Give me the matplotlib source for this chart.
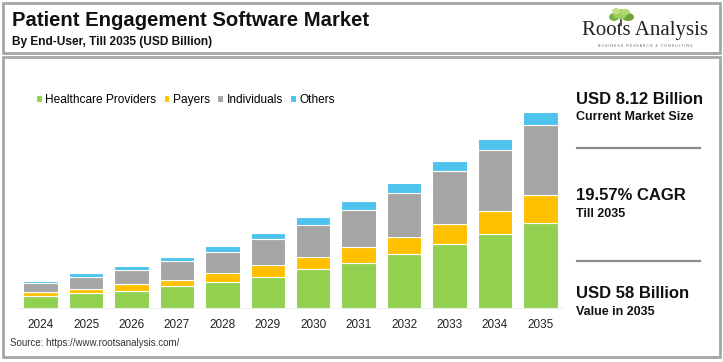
import numpy as np
import matplotlib
matplotlib.use("Agg")
from matplotlib import pyplot as plt
from matplotlib.patches import Rectangle, Ellipse

plt.rcParams['font.family'] = ['Liberation Sans', 'DejaVu Sans']

# data (USD billion)
years = ['2024', '2025', '2026', '2027', '2028', '2029', '2030', '2031', '2032', '2033', '2034', '2035']
providers = [3.4, 4.35, 5.1, 6.4, 7.7, 9.3, 11.4, 13.4, 16.0, 18.8, 21.8, 25.2]
payers = [1.3, 1.3, 1.9, 2.0, 2.6, 3.3, 3.8, 4.5, 5.0, 6.0, 7.0, 8.2]
individuals = [2.7, 3.65, 4.15, 5.4, 6.3, 7.7, 9.3, 11.2, 13.1, 15.6, 18.0, 20.8]
others = [0.72, 1.1, 1.3, 1.3, 1.6, 1.9, 2.4, 2.5, 2.8, 3.0, 3.2, 3.8]

series = [('Healthcare Providers', providers, '#92D050'),
          ('Payers', payers, '#FFC000'),
          ('Individuals', individuals, '#A5A5A5'),
          ('Others', others, '#4DC3EE')]

W, H = 723, 362
fig = plt.figure(figsize=(W / 100, H / 100), dpi=100)


def fx(x):
    return x / W


def fy(y):
    return 1 - y / H


# frames
for (x0, y0, x1, y1) in [(3, 3, 720, 53), (3, 57, 720, 357)]:
    fig.patches.append(Rectangle((fx(x0), fy(y1)), fx(x1 - x0), (y1 - y0) / H,
                                 transform=fig.transFigure, fill=False,
                                 edgecolor='#A6A6A6', lw=2))

# header
fig.text(fx(12), fy(21), 'Patient Engagement Software Market', fontsize=14.6,
         fontweight='bold', va='center', ha='left', color='#111111')
fig.text(fx(12), fy(42), 'By End-User, Till 2035 (USD Billion)', fontsize=8.6,
         fontweight='bold', va='center', ha='left', color='#111111')

# logo
fig.text(fx(645), fy(31), 'Roots Analysis', fontsize=15, family='Liberation Serif',
         va='center', ha='center', color='#222222')
fig.text(fx(645), fy(46), 'B U S I N E S S   R E S E A R C H   &   C O N S U L T I N G',
         fontsize=2.6, va='center', ha='center', color='#666666')
for (cx, cy, rx, ry, c) in [(614, 17, 5, 4, '#7CB342'), (628, 17, 6, 4, '#6FA53A'),
                            (620, 14, 7, 5, '#9CCF5E'), (616, 11, 4, 3, '#C5E08A'),
                            (625, 12, 5, 3, '#B2D872')]:
    fig.patches.append(Ellipse((fx(cx), fy(cy)), 2 * rx / W, 2 * ry / H,
                               transform=fig.transFigure, color=c, lw=0))
fig.patches.append(Rectangle((fx(620), fy(25)), 2 / W, 6 / H,
                             transform=fig.transFigure, color='#6D5B4B', lw=0))

# bars
ax = fig.add_axes([fx(18), fy(308), fx(563 - 18), (308 - 105) / H])
x = np.arange(len(years))
bottom = np.zeros(len(years))
for name, vals, col in series:
    ax.bar(x, vals, 0.76, bottom=bottom, color=col, edgecolor='white',
           linewidth=0.8, label=name)
    bottom += np.array(vals)
ax.set_xlim(-0.5, len(years) - 0.5)
ax.set_ylim(0, 60)
ax.set_xticks(x)
ax.set_xticklabels(years, fontsize=8.5, color='#222222')
ax.tick_params(axis='x', length=0, pad=8)
ax.set_yticks([])
for s in ax.spines.values():
    s.set_visible(False)
ax.spines['bottom'].set_visible(True)
ax.spines['bottom'].set_color('#EDEDED')
ax.spines['bottom'].set_linewidth(0.8)

leg = ax.legend(loc='upper left', bbox_to_anchor=(fx(13) / fx(545), 1.0 + 16 / 203),
                ncol=4, frameon=False, fontsize=8.6, handlelength=0.5,
                handleheight=0.5, handletextpad=0.3, columnspacing=0.6,
                borderaxespad=0)

# right panel
big, small = 12, 9
fig.text(fx(576), fy(100), 'USD 8.12 Billion', fontsize=big, fontweight='bold',
         va='center', ha='left', color='#111111')
fig.text(fx(576), fy(117), 'Current Market Size', fontsize=small, fontweight='bold',
         va='center', ha='left', color='#111111')
fig.text(fx(576), fy(196), '19.57% CAGR', fontsize=big, fontweight='bold',
         va='center', ha='left', color='#111111')
fig.text(fx(576), fy(214), 'Till 2035', fontsize=small, fontweight='bold',
         va='center', ha='left', color='#111111')
fig.text(fx(576), fy(294), 'USD 58 Billion', fontsize=big, fontweight='bold',
         va='center', ha='left', color='#111111')
fig.text(fx(576), fy(312), 'Value in 2035', fontsize=small, fontweight='bold',
         va='center', ha='left', color='#111111')
for yy in [148, 261]:
    fig.add_artist(plt.Line2D([fx(577), fx(700)], [fy(yy), fy(yy)],
                              color='#8C8C8C', lw=1.6))

# source
fig.text(fx(10), fy(343), 'Source: https://www.rootsanalysis.com/', fontsize=7,
         va='center', ha='left', color='#333333')

fig.savefig('out.png', dpi=100, facecolor='white')
